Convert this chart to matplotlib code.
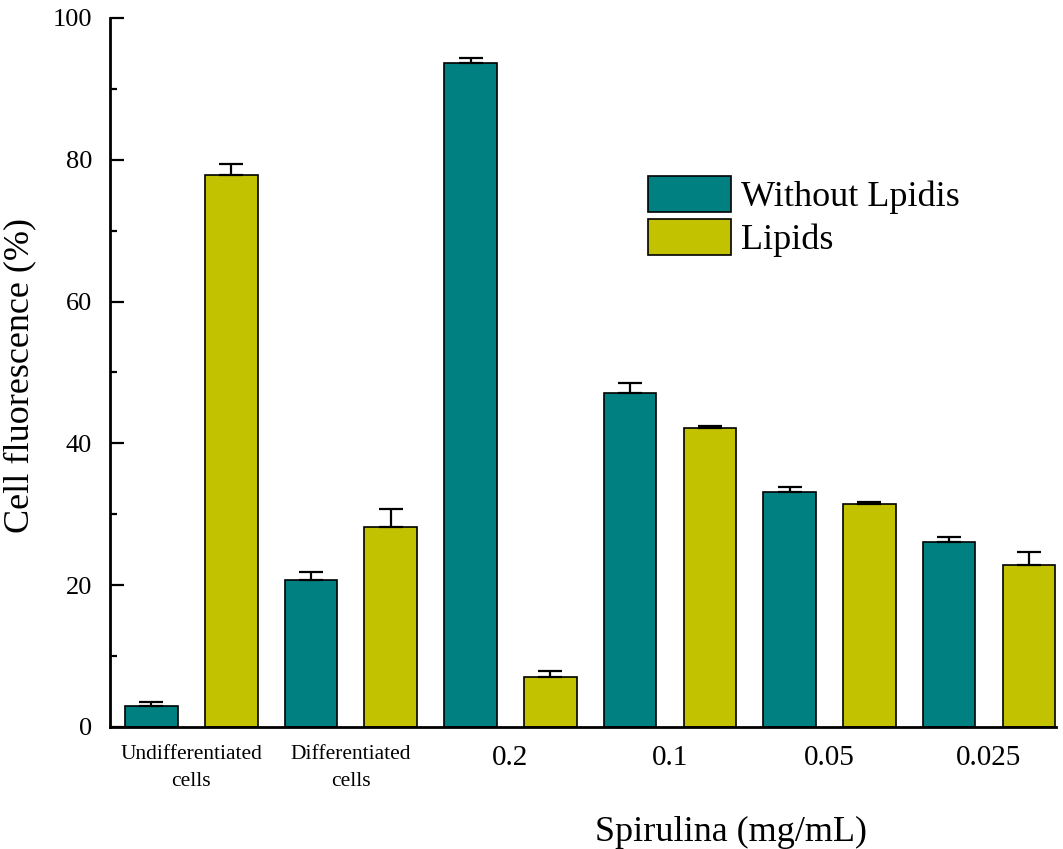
import numpy as np
import matplotlib.pyplot as plt

plt.rcParams['font.family'] = ['Liberation Serif', 'DejaVu Serif']

groups = ["Undifferentiated\ncells", "Differentiated\ncells", "0.2", "0.1", "0.05", "0.025"]
without_lipids = np.array([3.0, 20.7, 93.7, 47.1, 33.1, 26.05])
without_err = np.array([0.5, 1.1, 0.7, 1.4, 0.7, 0.8])
lipids = np.array([77.9, 28.2, 7.05, 42.2, 31.4, 22.85])
lipids_err = np.array([1.5, 2.5, 0.8, 0.3, 0.3, 1.8])

teal = "#008080"
olive = "#c2c200"

fig = plt.figure(figsize=(10.63, 8.49), dpi=100)
ax = fig.add_axes([0.1035, 0.1437, 0.8899, 0.8351])

x = np.arange(len(groups)) * 2
w = 0.66
err_kw = dict(ecolor="black", elinewidth=1.6, capthick=1.6)
ax.bar(x, without_lipids, w, color=teal, edgecolor="black", linewidth=1.2,
       yerr=[np.zeros_like(without_err), without_err], capsize=8.5,
       error_kw=err_kw, label="Without Lpidis")
ax.bar(x + 1, lipids, w, color=olive, edgecolor="black", linewidth=1.2,
       yerr=[np.zeros_like(lipids_err), lipids_err], capsize=8.5,
       error_kw=err_kw, label="Lipids")

ax.set_xlim(-0.52, 11.34)
ax.set_ylim(0, 100)
ax.set_yticks(np.arange(0, 101, 20))
ax.set_yticks(np.arange(0, 101, 10), minor=True)
ax.set_xticks(x + 0.5)
ax.set_xticklabels(groups)
for i, lab in enumerate(ax.get_xticklabels()):
    lab.set_fontsize(15.5 if i < 2 else 21)
    lab.set_linespacing(1.6)
ax.tick_params(axis="x", length=0, pad=13)
ax.tick_params(axis="y", which="major", direction="in", length=10, width=1.6,
               labelsize=19, pad=13)
ax.tick_params(axis="y", which="minor", direction="in", length=5, width=1.6)
for s in ["top", "right"]:
    ax.spines[s].set_visible(False)
for s in ["left", "bottom"]:
    ax.spines[s].set_linewidth(2)

ax.set_ylabel("Cell fluorescence (%)", fontsize=26)
ax.yaxis.set_label_coords(-0.078, 0.496)
ax.set_xlabel("Spirulina (mg/mL)", fontsize=26)
ax.xaxis.set_label_coords(0.656, -0.125)

ax.legend(loc="upper left", bbox_to_anchor=(0.569, 0.777), frameon=False,
          fontsize=26, handlelength=2.28, handleheight=1.14, labelspacing=0.14,
          handletextpad=0.3, borderaxespad=0, borderpad=0)

fig.savefig("out.png", dpi=100)
